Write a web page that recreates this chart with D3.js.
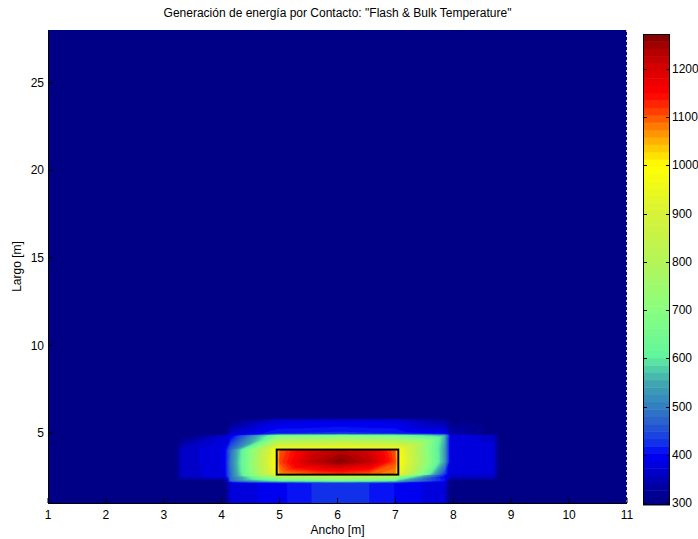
<!DOCTYPE html>
<html>
<head>
<meta charset="utf-8">
<script src="https://cdn.jsdelivr.net/npm/d3@7"></script>
<style>
  body { margin: 0; background: #fff; }
  text { font-family: "Liberation Sans Narrow", "Arial Narrow", "Liberation Sans", Arial, sans-serif; font-size: 12px; fill: #000; }
</style>
</head>
<body>
<svg id="chart" width="698" height="539"></svg>
<script>
// Mesh node coordinates (m) along the width (Ancho) and length (Largo)
const anchoNodes = [1, 3.2, 3.3, 4.05, 4.15, 4.95, 5.0, 5.55, 6.05, 6.55, 7.0, 7.05, 7.85, 7.95, 8.7, 8.8, 11];
const largoNodes = [1, 2.15, 2.25, 2.5, 2.62, 2.67, 3.35, 4.0, 4.05, 4.85, 4.95, 5.75, 5.85, 28];

// Temperature at each node, one row per largoNodes entry (columns follow anchoNodes)
const temperature = [
  [300, 300, 300, 300, 372, 398, 398, 418, 428, 418, 402, 402, 374, 300, 300, 300, 300],
  [300, 300, 300, 300, 372, 398, 398, 418, 428, 418, 402, 402, 374, 300, 300, 300, 300],
  [300, 300, 300, 300, 470, 600, 610, 625, 640, 625, 600, 560, 410, 300, 300, 300, 300],
  [300, 300, 358, 385, 480, 760, 780, 800, 820, 800, 780, 700, 400, 370, 368, 300, 300],
  [300, 300, 358, 388, 480, 950, 960, 970, 980, 970, 960, 950, 420, 372, 370, 300, 300],
  [300, 300, 358, 388, 480, 960, 1070, 1100, 1120, 1100, 1070, 960, 440, 374, 372, 300, 300],
  [300, 300, 360, 390, 490, 1000, 1110, 1225, 1270, 1225, 1110, 1000, 540, 380, 376, 300, 300],
  [300, 300, 360, 390, 480, 980, 1100, 1200, 1230, 1200, 1100, 980, 540, 380, 376, 300, 300],
  [300, 300, 360, 388, 470, 980, 985, 990, 1000, 990, 985, 980, 540, 380, 376, 300, 300],
  [300, 300, 300, 370, 385, 660, 670, 680, 690, 680, 670, 660, 560, 382, 368, 300, 300],
  [300, 300, 300, 300, 370, 420, 420, 422, 425, 422, 420, 415, 398, 345, 300, 300, 300],
  [300, 300, 300, 300, 300, 370, 372, 376, 380, 377, 375, 372, 330, 300, 300, 300, 300],
  [300, 300, 300, 300, 300, 300, 300, 300, 300, 300, 300, 300, 300, 300, 300, 300, 300],
  [300, 300, 300, 300, 300, 300, 300, 300, 300, 300, 300, 300, 300, 300, 300, 300, 300]
];

// Contact zone outline
const contactAncho = [4.95, 7.05];
const contactLargo = [2.62, 4.05];

// Axis ticks and colour limits
const anchoTicks = [1, 2, 3, 4, 5, 6, 7, 8, 9, 10, 11];
const largoTicks = [5, 10, 15, 20, 25];
const colorTicks = [300, 400, 500, 600, 700, 800, 900, 1000, 1100, 1200];
const colorLimits = [296, 1272];
const bandCount = 64;

// Colour map anchor points (value -> colour)
const cmapStops = [296, 330, 365, 400, 430, 470, 510, 550, 580, 605, 700, 800, 900, 1000, 1030, 1060, 1090, 1120, 1150, 1200, 1240, 1272];
const cmapColors = ["#000080", "#00009c", "#0000c8", "#0000f8", "#1438e8", "#2a62cc", "#3486c0", "#40a8b0", "#50d0a8", "#62f59c",
                    "#88ff80", "#b4f558", "#d8f238", "#ffff00", "#ffd400", "#ffa000", "#ff6a00", "#ff3000", "#ff0000", "#d80000", "#b00000", "#7e0000"];

const svg = d3.select("#chart");
const margin = { left: 48, top: 30, right: 627, bottom: 503 };
const pw = margin.right - margin.left;
const ph = margin.bottom - margin.top;

const x = d3.scaleLinear().domain([1, 11]).range([0, pw]);
const y = d3.scaleLinear().domain([1, 28]).range([ph, 0]);

const cmap = d3.scaleLinear().domain(cmapStops).range(cmapColors).interpolate(d3.interpolateRgb).clamp(true);
const step = (colorLimits[1] - colorLimits[0]) / bandCount;
const bandEdges = d3.range(bandCount).map(k => colorLimits[0] + k * step);
const bandColor = k => cmap(colorLimits[0] + (k + 0.5) * step);

// Piecewise-linear interpolation over triangles (each mesh cell split along its lower-left/upper-right diagonal)
function fieldAt(xv, yv) {
  const nx = anchoNodes.length, ny = largoNodes.length;
  const i = Math.min(Math.max(d3.bisectRight(anchoNodes, xv) - 1, 0), nx - 2);
  const j = Math.min(Math.max(d3.bisectRight(largoNodes, yv) - 1, 0), ny - 2);
  const u = (xv - anchoNodes[i]) / (anchoNodes[i + 1] - anchoNodes[i]);
  const v = (yv - largoNodes[j]) / (largoNodes[j + 1] - largoNodes[j]);
  const a = temperature[j][i], b = temperature[j][i + 1];
  const c = temperature[j + 1][i], d = temperature[j + 1][i + 1];
  if (v >= u) return a + (d - c) * u + (c - a) * v;
  return a + (b - a) * u + (d - b) * v;
}

// Sample the field on the pixel grid of the plot area
const values = new Float64Array(pw * ph);
for (let r = 0; r < ph; r++) {
  const yv = y.invert(r + 0.5);
  for (let c = 0; c < pw; c++) {
    values[r * pw + c] = fieldAt(x.invert(c + 0.5), yv);
  }
}

const plot = svg.append("g").attr("transform", `translate(${margin.left},${margin.top})`);

plot.append("clipPath").attr("id", "plotClip")
  .append("rect").attr("width", pw).attr("height", ph);

const contours = d3.contours().size([pw, ph]).smooth(true).thresholds(bandEdges)(values);
const path = d3.geoPath();
plot.append("g").attr("clip-path", "url(#plotClip)")
  .selectAll("path").data(contours).join("path")
  .attr("d", path)
  .attr("fill", (dd, k) => bandColor(k))
  .attr("stroke", "none");

// Contact zone outline
plot.append("rect")
  .attr("x", x(contactAncho[0]))
  .attr("y", y(contactLargo[1]))
  .attr("width", x(contactAncho[1]) - x(contactAncho[0]))
  .attr("height", y(contactLargo[0]) - y(contactLargo[1]))
  .attr("fill", "none").attr("stroke", "#000").attr("stroke-width", 2);

// Right-edge tick marks
plot.append("line")
  .attr("x1", pw - 0.5).attr("x2", pw - 0.5).attr("y1", 0).attr("y2", ph)
  .attr("stroke", "#c8c8dc").attr("stroke-width", 1).attr("stroke-dasharray", "2,3");

// Axes
const xAxis = plot.append("g").attr("transform", `translate(0,${ph})`);
xAxis.append("line").attr("x1", 0).attr("x2", pw).attr("y1", 0.5).attr("y2", 0.5).attr("stroke", "#000");
xAxis.selectAll("text").data(anchoTicks).join("text")
  .attr("x", d => x(d)).attr("y", 16).attr("text-anchor", "middle").text(d => d);
xAxis.selectAll("line.tick").data(anchoTicks).join("line").attr("class", "tick")
  .attr("x1", d => x(d)).attr("x2", d => x(d)).attr("y1", 0).attr("y2", -5).attr("stroke", "#000");

const yAxis = plot.append("g");
yAxis.append("line").attr("x1", 0.5).attr("x2", 0.5).attr("y1", 0).attr("y2", ph).attr("stroke", "#000");
yAxis.selectAll("text").data(largoTicks).join("text")
  .attr("x", -4).attr("y", d => y(d)).attr("dy", "0.35em").attr("text-anchor", "end").text(d => d);
yAxis.selectAll("line.tick").data(largoTicks).join("line").attr("class", "tick")
  .attr("x1", 0).attr("x2", 5).attr("y1", d => y(d)).attr("y2", d => y(d)).attr("stroke", "#000");

// Titles
svg.append("text").attr("x", margin.left + pw / 2).attr("y", 17).attr("text-anchor", "middle")
  .text("Generación de energía por Contacto: \"Flash & Bulk Temperature\"");
svg.append("text").attr("x", margin.left + pw / 2).attr("y", 534).attr("text-anchor", "middle").text("Ancho [m]");
svg.append("text").attr("transform", `translate(21,${margin.top + ph / 2}) rotate(-90)`).attr("text-anchor", "middle").text("Largo [m]");

// Colour bar
const cbX = 643, cbW = 27;
const cb = d3.scaleLinear().domain(colorLimits).range([505, 34]);
const cbar = svg.append("g");
cbar.selectAll("rect.band").data(d3.range(bandCount)).join("rect").attr("class", "band")
  .attr("x", cbX).attr("width", cbW)
  .attr("y", k => cb(bandEdges[k] + step))
  .attr("height", k => cb(bandEdges[k]) - cb(bandEdges[k] + step) + 0.5)
  .attr("fill", k => bandColor(k));
cbar.append("rect").attr("x", cbX + 0.5).attr("y", cb(colorLimits[1]) + 0.5)
  .attr("width", cbW - 1).attr("height", cb(colorLimits[0]) - cb(colorLimits[1]) - 1)
  .attr("fill", "none").attr("stroke", "#000");
cbar.selectAll("line.l").data(colorTicks).join("line").attr("class", "l")
  .attr("x1", cbX).attr("x2", cbX + 4).attr("y1", d => Math.round(cb(d)) + 0.5).attr("y2", d => Math.round(cb(d)) + 0.5).attr("stroke", "#000");
cbar.selectAll("line.r").data(colorTicks).join("line").attr("class", "r")
  .attr("x1", cbX + cbW - 4).attr("x2", cbX + cbW).attr("y1", d => Math.round(cb(d)) + 0.5).attr("y2", d => Math.round(cb(d)) + 0.5).attr("stroke", "#000");
cbar.selectAll("text").data(colorTicks).join("text")
  .attr("x", cbX + cbW + 2).attr("y", d => cb(d)).attr("dy", "0.35em").text(d => d);
</script>
</body>
</html>
